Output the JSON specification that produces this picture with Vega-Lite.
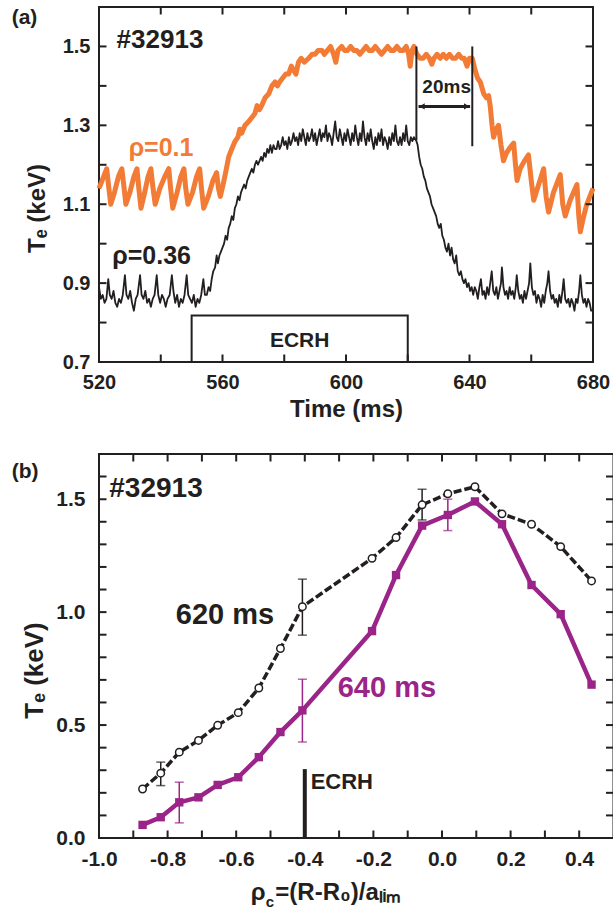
{
  "$schema": "https://vega.github.io/schema/vega-lite/v6.json",
  "background": "white",
  "padding": {"left": 10, "top": 6, "right": 0, "bottom": 0},
  "columns": 1,
  "align": "none",
  "spacing": 31,
  "config": {
    "font": "Liberation Sans",
    "view": {"stroke": "#231f20", "strokeWidth": 2},
    "axis": {
      "grid": false,
      "domain": false,
      "ticks": false,
      "offset": 0,
      "labelFont": "Liberation Sans",
      "labelFontWeight": "bold",
      "labelColor": "#231f20",
      "labelFlush": false,
      "labelOverlap": false,
      "titleFont": "Liberation Sans",
      "titleFontWeight": "bold",
      "titleColor": "#231f20"
    }
  },
  "datasets": {
    "orange": [
      {"t":520.0,"v":1.14},{"t":521.0,"v":1.16},{"t":522.0,"v":1.18},{"t":522.5,"v":1.19},{"t":523.2,"v":1.14},{"t":523.8,"v":1.10},
      {"t":525.0,"v":1.13},{"t":526.3,"v":1.17},{"t":527.4,"v":1.19},{"t":528.0,"v":1.15},{"t":528.7,"v":1.10},
      {"t":530.0,"v":1.13},{"t":531.3,"v":1.17},{"t":532.3,"v":1.19},{"t":532.9,"v":1.14},{"t":533.6,"v":1.09},
      {"t":534.8,"v":1.13},{"t":535.9,"v":1.17},{"t":536.8,"v":1.19},{"t":537.5,"v":1.14},{"t":538.2,"v":1.10},
      {"t":539.7,"v":1.14},{"t":541.3,"v":1.17},{"t":542.6,"v":1.19},{"t":543.2,"v":1.14},{"t":543.9,"v":1.09},
      {"t":545.3,"v":1.13},{"t":546.5,"v":1.17},{"t":547.5,"v":1.19},{"t":548.1,"v":1.14},{"t":548.8,"v":1.10},
      {"t":550.3,"v":1.13},{"t":551.6,"v":1.17},{"t":552.6,"v":1.19},{"t":553.2,"v":1.14},{"t":553.9,"v":1.09},
      {"t":555.4,"v":1.12},{"t":556.9,"v":1.16},{"t":558.1,"v":1.18},{"t":558.7,"v":1.14},{"t":559.3,"v":1.12},
      {"t":560.2,"v":1.15},{"t":561.0,"v":1.18},{"t":562.0,"v":1.22},{"t":563.0,"v":1.24},{"t":564.1,"v":1.26},
      {"t":565.0,"v":1.27},{"t":565.6,"v":1.29},{"t":566.2,"v":1.28},{"t":567.3,"v":1.30},{"t":568.5,"v":1.31},
      {"t":569.5,"v":1.32},{"t":570.5,"v":1.33},{"t":571.2,"v":1.35},{"t":572.0,"v":1.34},{"t":572.7,"v":1.35},
      {"t":573.8,"v":1.37},{"t":575.0,"v":1.38},{"t":576.0,"v":1.40},{"t":577.0,"v":1.41},{"t":577.8,"v":1.40},
      {"t":578.5,"v":1.41},{"t":579.5,"v":1.42},{"t":580.5,"v":1.43},{"t":581.4,"v":1.43},{"t":582.3,"v":1.45},
      {"t":583.0,"v":1.44},{"t":583.8,"v":1.43},{"t":584.6,"v":1.46},{"t":585.5,"v":1.47},{"t":586.5,"v":1.46},
      {"t":587.9,"v":1.47},{"t":589.0,"v":1.48},{"t":590.0,"v":1.48},{"t":591.0,"v":1.49},{"t":592.2,"v":1.49},
      {"t":593.0,"v":1.48},{"t":594.0,"v":1.49},{"t":595.0,"v":1.50},{"t":596.0,"v":1.48},{"t":596.7,"v":1.46},
      {"t":597.4,"v":1.49},{"t":598.6,"v":1.50},{"t":599.5,"v":1.49},{"t":600.5,"v":1.49},{"t":601.5,"v":1.50},
      {"t":602.5,"v":1.49},{"t":603.5,"v":1.49},{"t":604.5,"v":1.48},{"t":605.5,"v":1.49},{"t":606.5,"v":1.50},
      {"t":607.5,"v":1.49},{"t":608.5,"v":1.49},{"t":609.5,"v":1.50},{"t":610.5,"v":1.49},{"t":611.5,"v":1.48},
      {"t":612.5,"v":1.49},{"t":613.5,"v":1.50},{"t":614.5,"v":1.49},{"t":615.5,"v":1.49},{"t":616.5,"v":1.50},
      {"t":617.5,"v":1.49},{"t":618.5,"v":1.49},{"t":619.5,"v":1.50},{"t":620.3,"v":1.48},{"t":620.8,"v":1.45},
      {"t":621.4,"v":1.49},{"t":622.0,"v":1.50},{"t":623.0,"v":1.48},{"t":624.0,"v":1.47},{"t":625.0,"v":1.47},
      {"t":626.0,"v":1.48},{"t":627.0,"v":1.47},{"t":627.8,"v":1.455},{"t":628.5,"v":1.47},{"t":629.5,"v":1.48},
      {"t":630.5,"v":1.47},{"t":631.5,"v":1.48},{"t":632.5,"v":1.47},{"t":633.5,"v":1.48},{"t":634.5,"v":1.47},
      {"t":635.5,"v":1.47},{"t":636.5,"v":1.48},{"t":637.5,"v":1.47},{"t":638.3,"v":1.47},{"t":639.2,"v":1.45},
      {"t":640.0,"v":1.47},{"t":640.9,"v":1.47},{"t":641.8,"v":1.44},{"t":642.6,"v":1.42},{"t":643.5,"v":1.41},
      {"t":644.6,"v":1.38},{"t":645.5,"v":1.37},{"t":646.2,"v":1.375},{"t":646.7,"v":1.35},{"t":647.3,"v":1.30},
      {"t":647.8,"v":1.27},{"t":648.6,"v":1.29},{"t":649.4,"v":1.30},{"t":650.2,"v":1.25},{"t":651.0,"v":1.21},
      {"t":652.0,"v":1.23},{"t":653.2,"v":1.245},{"t":654.3,"v":1.255},{"t":654.9,"v":1.20},{"t":655.4,"v":1.16},
      {"t":656.4,"v":1.19},{"t":657.8,"v":1.21},{"t":659.1,"v":1.225},{"t":660.0,"v":1.16},{"t":660.8,"v":1.11},
      {"t":662.4,"v":1.15},{"t":664.0,"v":1.19},{"t":664.8,"v":1.12},{"t":665.6,"v":1.08},{"t":667.2,"v":1.13},
      {"t":669.4,"v":1.175},{"t":670.2,"v":1.10},{"t":671.0,"v":1.07},{"t":672.6,"v":1.11},{"t":674.8,"v":1.15},
      {"t":675.4,"v":1.07},{"t":675.9,"v":1.03},{"t":677.0,"v":1.07},{"t":678.0,"v":1.10},{"t":679.0,"v":1.12},
      {"t":680.0,"v":1.14}
    ],
    "black": [
      {"t":520.0,"v":0.89},{"t":520.6,"v":0.86},{"t":521.2,"v":0.87},{"t":521.8,"v":0.85},{"t":522.4,"v":0.86},
      {"t":523.0,"v":0.91},{"t":523.5,"v":0.87},{"t":524.1,"v":0.86},{"t":524.7,"v":0.88},{"t":525.3,"v":0.85},
      {"t":525.9,"v":0.84},{"t":526.5,"v":0.86},{"t":527.1,"v":0.85},{"t":527.7,"v":0.87},{"t":528.4,"v":0.92},
      {"t":528.9,"v":0.87},{"t":529.5,"v":0.86},{"t":530.1,"v":0.88},{"t":530.7,"v":0.85},{"t":531.3,"v":0.83},
      {"t":531.9,"v":0.86},{"t":532.5,"v":0.87},{"t":533.3,"v":0.92},{"t":533.8,"v":0.87},{"t":534.4,"v":0.86},
      {"t":535.0,"v":0.88},{"t":535.6,"v":0.85},{"t":536.2,"v":0.86},{"t":536.8,"v":0.84},{"t":537.4,"v":0.86},
      {"t":538.0,"v":0.87},{"t":538.7,"v":0.92},{"t":539.2,"v":0.87},{"t":539.8,"v":0.85},{"t":540.4,"v":0.87},
      {"t":541.0,"v":0.86},{"t":541.6,"v":0.84},{"t":542.2,"v":0.86},{"t":542.9,"v":0.87},{"t":543.6,"v":0.92},
      {"t":544.1,"v":0.88},{"t":544.7,"v":0.85},{"t":545.3,"v":0.87},{"t":545.9,"v":0.84},{"t":546.5,"v":0.86},
      {"t":547.1,"v":0.85},{"t":547.7,"v":0.87},{"t":548.4,"v":0.92},{"t":548.9,"v":0.87},{"t":549.5,"v":0.86},
      {"t":550.1,"v":0.85},{"t":550.7,"v":0.87},{"t":551.3,"v":0.84},{"t":551.9,"v":0.86},{"t":552.5,"v":0.85},
      {"t":553.1,"v":0.87},{"t":553.8,"v":0.91},{"t":554.3,"v":0.87},{"t":554.9,"v":0.87},{"t":555.5,"v":0.89},
      {"t":556.0,"v":0.88},{"t":556.5,"v":0.91},{"t":557.0,"v":0.93},{"t":557.6,"v":0.94},{"t":558.1,"v":0.97},
      {"t":558.5,"v":0.95},{"t":559.0,"v":0.97},{"t":559.5,"v":0.98},{"t":560.0,"v":0.99},{"t":560.5,"v":1.00},
      {"t":561.0,"v":1.02},{"t":561.5,"v":1.01},{"t":562.0,"v":1.04},{"t":562.5,"v":1.05},{"t":563.0,"v":1.07},
      {"t":563.5,"v":1.06},{"t":564.0,"v":1.09},{"t":564.5,"v":1.10},{"t":565.0,"v":1.12},{"t":565.5,"v":1.11},
      {"t":566.0,"v":1.13},{"t":566.5,"v":1.14},{"t":567.0,"v":1.15},{"t":567.5,"v":1.14},{"t":568.0,"v":1.16},
      {"t":568.5,"v":1.17},{"t":569.0,"v":1.18},{"t":569.5,"v":1.19},{"t":570.0,"v":1.18},{"t":570.5,"v":1.20},
      {"t":571.0,"v":1.21},{"t":571.5,"v":1.20},{"t":572.0,"v":1.21},{"t":572.5,"v":1.22},{"t":573.0,"v":1.21},
      {"t":573.5,"v":1.23},{"t":574.0,"v":1.22},{"t":574.5,"v":1.24},{"t":575.0,"v":1.23},{"t":575.5,"v":1.25},
      {"t":576.0,"v":1.23},{"t":576.5,"v":1.25},{"t":577.0,"v":1.24},{"t":577.5,"v":1.24},{"t":578.0,"v":1.26},
      {"t":578.5,"v":1.24},{"t":579.0,"v":1.25},{"t":579.5,"v":1.27},{"t":580.0,"v":1.25},{"t":580.5,"v":1.26},
      {"t":581.0,"v":1.24},{"t":581.5,"v":1.27},{"t":582.0,"v":1.25},{"t":582.5,"v":1.26},{"t":583.0,"v":1.28},
      {"t":583.5,"v":1.26},{"t":584.0,"v":1.27},{"t":584.5,"v":1.25},{"t":585.0,"v":1.28},{"t":585.5,"v":1.26},
      {"t":586.0,"v":1.29},{"t":586.5,"v":1.27},{"t":587.0,"v":1.25},{"t":587.5,"v":1.28},{"t":588.0,"v":1.26},
      {"t":588.5,"v":1.27},{"t":589.0,"v":1.29},{"t":589.5,"v":1.26},{"t":590.0,"v":1.28},{"t":590.5,"v":1.25},
      {"t":591.0,"v":1.27},{"t":591.5,"v":1.29},{"t":592.0,"v":1.26},{"t":592.5,"v":1.28},{"t":593.0,"v":1.27},
      {"t":593.5,"v":1.30},{"t":594.0,"v":1.26},{"t":594.5,"v":1.28},{"t":595.0,"v":1.27},{"t":595.5,"v":1.25},
      {"t":596.0,"v":1.28},{"t":596.5,"v":1.31},{"t":597.0,"v":1.27},{"t":597.5,"v":1.26},{"t":598.0,"v":1.29},
      {"t":598.5,"v":1.27},{"t":599.0,"v":1.25},{"t":599.5,"v":1.28},{"t":600.0,"v":1.26},{"t":600.5,"v":1.29},
      {"t":601.0,"v":1.27},{"t":601.5,"v":1.25},{"t":602.0,"v":1.28},{"t":602.5,"v":1.26},{"t":603.0,"v":1.30},
      {"t":603.5,"v":1.27},{"t":604.0,"v":1.25},{"t":604.5,"v":1.28},{"t":605.0,"v":1.26},{"t":605.5,"v":1.31},
      {"t":606.0,"v":1.27},{"t":606.5,"v":1.25},{"t":607.0,"v":1.28},{"t":607.5,"v":1.26},{"t":608.0,"v":1.29},
      {"t":608.5,"v":1.26},{"t":609.0,"v":1.24},{"t":609.5,"v":1.27},{"t":610.0,"v":1.25},{"t":610.5,"v":1.28},
      {"t":611.0,"v":1.26},{"t":611.5,"v":1.29},{"t":612.0,"v":1.25},{"t":612.5,"v":1.27},{"t":613.0,"v":1.26},
      {"t":613.5,"v":1.24},{"t":614.0,"v":1.27},{"t":614.5,"v":1.25},{"t":615.0,"v":1.28},{"t":615.5,"v":1.26},
      {"t":616.0,"v":1.30},{"t":616.5,"v":1.26},{"t":617.0,"v":1.25},{"t":617.5,"v":1.27},{"t":618.0,"v":1.25},
      {"t":618.5,"v":1.28},{"t":619.0,"v":1.26},{"t":619.5,"v":1.30},{"t":620.0,"v":1.26},{"t":620.5,"v":1.25},
      {"t":621.0,"v":1.27},{"t":621.5,"v":1.26},{"t":622.0,"v":1.27},{"t":622.8,"v":1.26},{"t":623.2,"v":1.25},
      {"t":623.7,"v":1.22},{"t":624.2,"v":1.20},{"t":624.7,"v":1.19},{"t":625.2,"v":1.17},{"t":625.7,"v":1.16},
      {"t":626.2,"v":1.14},{"t":626.7,"v":1.13},{"t":627.2,"v":1.12},{"t":627.7,"v":1.10},{"t":628.2,"v":1.09},
      {"t":628.7,"v":1.08},{"t":629.2,"v":1.07},{"t":629.7,"v":1.05},{"t":630.2,"v":1.04},{"t":630.7,"v":1.05},
      {"t":631.2,"v":1.02},{"t":631.7,"v":1.01},{"t":632.2,"v":0.99},{"t":632.7,"v":0.98},{"t":633.2,"v":1.00},
      {"t":633.7,"v":0.97},{"t":634.2,"v":0.99},{"t":634.7,"v":0.96},{"t":635.2,"v":0.95},{"t":635.7,"v":0.97},
      {"t":636.2,"v":0.93},{"t":636.7,"v":0.92},{"t":637.2,"v":0.93},{"t":637.7,"v":0.91},{"t":638.2,"v":0.90},
      {"t":638.7,"v":0.91},{"t":639.2,"v":0.89},{"t":639.7,"v":0.90},{"t":640.2,"v":0.88},{"t":640.7,"v":0.89},
      {"t":641.2,"v":0.87},{"t":641.7,"v":0.89},{"t":642.2,"v":0.88},{"t":642.7,"v":0.86},{"t":643.2,"v":0.89},
      {"t":643.7,"v":0.91},{"t":644.2,"v":0.87},{"t":644.7,"v":0.88},{"t":645.2,"v":0.86},{"t":645.7,"v":0.89},
      {"t":646.2,"v":0.87},{"t":646.7,"v":0.90},{"t":647.2,"v":0.93},{"t":647.7,"v":0.88},{"t":648.2,"v":0.87},
      {"t":648.7,"v":0.89},{"t":649.2,"v":0.86},{"t":649.7,"v":0.88},{"t":650.2,"v":0.90},{"t":650.5,"v":0.94},
      {"t":651.0,"v":0.89},{"t":651.5,"v":0.87},{"t":652.0,"v":0.88},{"t":652.5,"v":0.86},{"t":653.0,"v":0.89},
      {"t":653.5,"v":0.87},{"t":654.0,"v":0.88},{"t":654.5,"v":0.86},{"t":655.0,"v":0.89},{"t":655.3,"v":0.92},
      {"t":655.8,"v":0.88},{"t":656.3,"v":0.86},{"t":656.8,"v":0.87},{"t":657.3,"v":0.85},{"t":657.8,"v":0.88},
      {"t":658.3,"v":0.86},{"t":658.8,"v":0.88},{"t":659.3,"v":0.90},{"t":659.7,"v":0.95},{"t":660.2,"v":0.89},
      {"t":660.7,"v":0.87},{"t":661.2,"v":0.88},{"t":661.7,"v":0.85},{"t":662.2,"v":0.87},{"t":662.7,"v":0.86},
      {"t":663.2,"v":0.84},{"t":663.7,"v":0.87},{"t":664.2,"v":0.85},{"t":664.7,"v":0.88},{"t":665.2,"v":0.90},
      {"t":665.6,"v":0.93},{"t":666.1,"v":0.88},{"t":666.6,"v":0.86},{"t":667.1,"v":0.87},{"t":667.6,"v":0.85},
      {"t":668.1,"v":0.86},{"t":668.6,"v":0.84},{"t":669.1,"v":0.87},{"t":669.6,"v":0.85},{"t":670.1,"v":0.88},
      {"t":670.5,"v":0.91},{"t":671.0,"v":0.86},{"t":671.5,"v":0.85},{"t":672.0,"v":0.86},{"t":672.5,"v":0.84},
      {"t":673.0,"v":0.86},{"t":673.5,"v":0.85},{"t":674.0,"v":0.83},{"t":674.5,"v":0.86},{"t":675.0,"v":0.85},
      {"t":675.5,"v":0.88},{"t":675.9,"v":0.92},{"t":676.4,"v":0.87},{"t":676.9,"v":0.85},{"t":677.4,"v":0.86},
      {"t":677.9,"v":0.84},{"t":678.4,"v":0.86},{"t":678.9,"v":0.85},{"t":679.4,"v":0.83},{"t":680.0,"v":0.83}
    ],
    "p620": [
      {"rho":-0.873,"te":0.217},{"rho":-0.820,"te":0.287},{"rho":-0.766,"te":0.380},{"rho":-0.710,"te":0.432},
      {"rho":-0.654,"te":0.499},{"rho":-0.594,"te":0.555},{"rho":-0.534,"te":0.664},{"rho":-0.471,"te":0.839},
      {"rho":-0.407,"te":1.024},{"rho":-0.204,"te":1.238},{"rho":-0.134,"te":1.330},{"rho":-0.058,"te":1.475},
      {"rho":0.017,"te":1.524},{"rho":0.096,"te":1.555},{"rho":0.175,"te":1.435},{"rho":0.261,"te":1.389},
      {"rho":0.346,"te":1.290},{"rho":0.436,"te":1.138}
    ],
    "p640": [
      {"rho":-0.873,"te":0.058},{"rho":-0.820,"te":0.092},{"rho":-0.766,"te":0.158},{"rho":-0.710,"te":0.180},
      {"rho":-0.654,"te":0.235},{"rho":-0.594,"te":0.269},{"rho":-0.534,"te":0.358},{"rho":-0.471,"te":0.469},
      {"rho":-0.407,"te":0.565},{"rho":-0.204,"te":0.916},{"rho":-0.134,"te":1.164},{"rho":-0.058,"te":1.383},
      {"rho":0.017,"te":1.430},{"rho":0.096,"te":1.490},{"rho":0.175,"te":1.389},{"rho":0.261,"te":1.120},
      {"rho":0.346,"te":0.991},{"rho":0.436,"te":0.679}
    ],
    "e620": [
      {"rho":-0.820,"lo":0.232,"hi":0.336},{"rho":-0.407,"lo":0.898,"hi":1.146},{"rho":-0.058,"lo":1.408,"hi":1.544}
    ],
    "e640": [
      {"rho":-0.766,"lo":0.067,"hi":0.247},{"rho":-0.407,"lo":0.425,"hi":0.703},{"rho":0.017,"lo":1.361,"hi":1.500}
    ],
    "marks20": [
      {"t":622.8,"top":1.5,"bot":1.262},{"t":640.9,"top":1.5,"bot":1.247}
    ],
    "tickT": [{"t":540},{"t":560},{"t":580},{"t":600},{"t":620},{"t":640},{"t":660}],
    "tickV": [{"v":0.8},{"v":0.9},{"v":1.0},{"v":1.1},{"v":1.2},{"v":1.3},{"v":1.4},{"v":1.5}],
    "tickR": [{"rho":-0.9},{"rho":-0.8},{"rho":-0.7},{"rho":-0.6},{"rho":-0.5},{"rho":-0.4},{"rho":-0.3},{"rho":-0.2},{"rho":-0.1},{"rho":0.0},{"rho":0.1},{"rho":0.2},{"rho":0.3},{"rho":0.4}],
    "tickE": [{"te":0.1},{"te":0.2},{"te":0.3},{"te":0.4},{"te":0.5},{"te":0.6},{"te":0.7},{"te":0.8},{"te":0.9},{"te":1.0},{"te":1.1},{"te":1.2},{"te":1.3},{"te":1.4},{"te":1.5},{"te":1.6}]
  },
  "concat": [
    {
      "width": 494,
      "height": 355,
      "layer": [
        {
          "data": {"name": "orange"},
          "mark": {"type": "line", "color": "#F27B35", "strokeWidth": 5, "strokeJoin": "round"},
          "encoding": {
            "x": {"field": "t", "type": "quantitative", "scale": {"domain": [520, 680], "nice": false, "zero": false},
                  "axis": {"orient": "bottom", "values": [520,560,600,640,680],
                           "labelFontSize": 20, "labelPadding": 10, "ticks": false, "domain": false, "offset": 0,
                           "title": "Time (ms)", "titleFontSize": 24, "titleY": 54, "titleBaseline": "alphabetic"}},
            "y": {"field": "v", "type": "quantitative", "scale": {"domain": [0.7, 1.6], "nice": false, "zero": false},
                  "axis": {"orient": "left", "values": [0.7,0.9,1.1,1.3,1.5], "format": ".1f",
                           "labelFontSize": 20, "labelPadding": 9, "ticks": false, "domain": false, "offset": 0,
                           "title": "T\u2091 (keV)", "titleFontSize": 24, "titleX": -50, "titleY": 201,
                           "titleAngle": 270, "titleBaseline": "bottom", "titleAlign": "center"}}
          }
        },
        {
          "data": {"name": "black"},
          "mark": {"type": "line", "color": "#231f20", "strokeWidth": 1.8, "strokeJoin": "round"},
          "encoding": {
            "x": {"field": "t", "type": "quantitative"},
            "y": {"field": "v", "type": "quantitative"}
          }
        },
        {
          "data": {"name": "tickT"},
          "mark": {"type": "tick", "orient": "vertical", "size": 15, "thickness": 2, "color": "#231f20", "opacity": 1, "clip": true},
          "encoding": {"x": {"field": "t", "type": "quantitative"}, "y": {"datum": 1.6}}
        },
        {
          "data": {"name": "tickT"},
          "mark": {"type": "tick", "orient": "vertical", "size": 15, "thickness": 2, "color": "#231f20", "opacity": 1, "clip": true},
          "encoding": {"x": {"field": "t", "type": "quantitative"}, "y": {"datum": 0.7}}
        },
        {
          "data": {"name": "tickV"},
          "mark": {"type": "tick", "orient": "horizontal", "size": 15, "thickness": 2, "color": "#231f20", "opacity": 1, "clip": true},
          "encoding": {"y": {"field": "v", "type": "quantitative"}, "x": {"datum": 520}}
        },
        {
          "data": {"name": "tickV"},
          "mark": {"type": "tick", "orient": "horizontal", "size": 15, "thickness": 2, "color": "#231f20", "opacity": 1, "clip": true},
          "encoding": {"y": {"field": "v", "type": "quantitative"}, "x": {"datum": 680}}
        },
        {
          "data": {"values": [{}]},
          "mark": {"type": "rect", "fillOpacity": 0, "stroke": "#231f20", "strokeWidth": 2},
          "encoding": {
            "x": {"datum": 550}, "x2": {"datum": 620},
            "y": {"datum": 0.7}, "y2": {"datum": 0.818}
          }
        },
        {
          "data": {"values": [{}]},
          "mark": {"type": "text", "text": "ECRH", "align": "center", "baseline": "alphabetic", "fontSize": 21, "fontWeight": "bold", "color": "#231f20"},
          "encoding": {"x": {"datum": 585}, "y": {"datum": 0.738}}
        },
        {
          "data": {"name": "marks20"},
          "mark": {"type": "rule", "strokeWidth": 2, "color": "#231f20"},
          "encoding": {
            "x": {"field": "t", "type": "quantitative"},
            "y": {"field": "top", "type": "quantitative"},
            "y2": {"field": "bot"}
          }
        },
        {
          "data": {"values": [{}]},
          "mark": {"type": "rule", "strokeWidth": 3, "color": "#231f20"},
          "encoding": {
            "x": {"datum": 623.5}, "x2": {"datum": 640.2},
            "y": {"datum": 1.348}
          }
        },
        {
          "data": {"values": [{}]},
          "mark": {"type": "point", "shape": "triangle-left", "filled": true, "size": 40, "color": "#231f20", "opacity": 1},
          "encoding": {"x": {"datum": 624.6}, "y": {"datum": 1.348}}
        },
        {
          "data": {"values": [{}]},
          "mark": {"type": "point", "shape": "triangle-right", "filled": true, "size": 40, "color": "#231f20", "opacity": 1},
          "encoding": {"x": {"datum": 639.1}, "y": {"datum": 1.348}}
        },
        {
          "data": {"values": [{}]},
          "mark": {"type": "text", "text": "20ms", "align": "center", "baseline": "alphabetic", "fontSize": 19, "fontWeight": "bold", "color": "#231f20"},
          "encoding": {"x": {"datum": 632.6}, "y": {"datum": 1.382}}
        },
        {
          "data": {"values": [{}]},
          "mark": {"type": "text", "text": "#32913", "align": "left", "baseline": "alphabetic", "fontSize": 26, "fontWeight": "bold", "color": "#231f20"},
          "encoding": {"x": {"datum": 525.7}, "y": {"datum": 1.497}}
        },
        {
          "data": {"values": [{}]},
          "mark": {"type": "text", "text": "ρ=0.1", "align": "left", "baseline": "alphabetic", "fontSize": 25, "fontWeight": "bold", "color": "#F27B35"},
          "encoding": {"x": {"datum": 529.6}, "y": {"datum": 1.222}}
        },
        {
          "data": {"values": [{}]},
          "mark": {"type": "text", "text": "ρ=0.36", "align": "left", "baseline": "alphabetic", "fontSize": 25, "fontWeight": "bold", "color": "#231f20"},
          "encoding": {"x": {"datum": 524.3}, "y": {"datum": 0.949}}
        },
        {
          "data": {"values": [{}]},
          "mark": {"type": "text", "text": "(a)", "align": "left", "baseline": "top", "fontSize": 21, "fontWeight": "bold", "color": "#231f20", "dx": -87.3, "dy": 0},
          "encoding": {"x": {"datum": 520}, "y": {"datum": 1.6}}
        }
      ]
    },
    {
      "width": 514.5,
      "height": 384,
      "layer": [
        {
          "data": {"name": "p640"},
          "mark": {"type": "line", "color": "#9A2488", "strokeWidth": 4.5, "strokeJoin": "round"},
          "encoding": {
            "x": {"field": "rho", "type": "quantitative", "scale": {"domain": [-1.0, 0.5], "nice": false, "zero": false},
                  "axis": {"orient": "bottom", "values": [-1,-0.8,-0.6,-0.4,-0.2,0,0.2,0.4],
                           "labelExpr": "replace(format(datum.value, '.1f'), '−', '-')",
                           "labelFontSize": 21, "labelPadding": 10, "ticks": false, "domain": false, "offset": 0,
                           "title": null}},
            "y": {"field": "te", "type": "quantitative", "title": "T\u2091 (keV)", "scale": {"domain": [0, 1.7], "nice": false, "zero": false},
                  "axis": {"orient": "left", "values": [0,0.5,1.0,1.5], "format": ".1f",
                           "labelFontSize": 21, "labelPadding": 14, "ticks": false, "domain": false, "offset": 0,
                           "title": "T\u2091 (keV)", "titleFontSize": 26, "titleX": -52, "titleY": 216,
                           "titleAngle": 270, "titleBaseline": "bottom", "titleAlign": "center"}}
          }
        },
        {
          "data": {"name": "p620"},
          "mark": {"type": "line", "color": "#231f20", "strokeWidth": 3.5, "strokeDash": [8, 3]},
          "encoding": {
            "x": {"field": "rho", "type": "quantitative"},
            "y": {"field": "te", "type": "quantitative", "title": "T\u2091 (keV)"}
          }
        },
        {
          "data": {"name": "tickR"},
          "mark": {"type": "tick", "orient": "vertical", "size": 15, "thickness": 2, "color": "#231f20", "opacity": 1, "clip": true},
          "encoding": {"x": {"field": "rho", "type": "quantitative"}, "y": {"datum": 1.7}}
        },
        {
          "data": {"name": "tickR"},
          "mark": {"type": "tick", "orient": "vertical", "size": 15, "thickness": 2, "color": "#231f20", "opacity": 1, "clip": true},
          "encoding": {"x": {"field": "rho", "type": "quantitative"}, "y": {"datum": 0}}
        },
        {
          "data": {"name": "tickE"},
          "mark": {"type": "tick", "orient": "horizontal", "size": 15, "thickness": 2, "color": "#231f20", "opacity": 1, "clip": true},
          "encoding": {"y": {"field": "te", "type": "quantitative", "title": "T\u2091 (keV)"}, "x": {"datum": -1.0}}
        },
        {
          "data": {"name": "tickE"},
          "mark": {"type": "tick", "orient": "horizontal", "size": 15, "thickness": 2, "color": "#231f20", "opacity": 1, "clip": true},
          "encoding": {"y": {"field": "te", "type": "quantitative", "title": "T\u2091 (keV)"}, "x": {"datum": 0.5}}
        },
        {
          "data": {"name": "e620"},
          "mark": {"type": "errorbar", "color": "#231f20", "thickness": 1.5, "ticks": {"size": 9, "thickness": 1.5}},
          "encoding": {
            "x": {"field": "rho", "type": "quantitative"},
            "y": {"field": "lo", "type": "quantitative", "title": "T\u2091 (keV)"},
            "y2": {"field": "hi"}
          }
        },
        {
          "data": {"name": "e640"},
          "mark": {"type": "errorbar", "color": "#9A2488", "thickness": 1.5, "ticks": {"size": 9, "thickness": 1.5}},
          "encoding": {
            "x": {"field": "rho", "type": "quantitative"},
            "y": {"field": "lo", "type": "quantitative", "title": "T\u2091 (keV)"},
            "y2": {"field": "hi"}
          }
        },
        {
          "data": {"name": "p620"},
          "mark": {"type": "point", "shape": "circle", "filled": true, "fill": "white", "stroke": "#231f20", "strokeWidth": 1.5, "size": 55, "opacity": 1},
          "encoding": {
            "x": {"field": "rho", "type": "quantitative"},
            "y": {"field": "te", "type": "quantitative", "title": "T\u2091 (keV)"}
          }
        },
        {
          "data": {"name": "p640"},
          "mark": {"type": "point", "shape": "square", "filled": true, "color": "#9A2488", "size": 70, "opacity": 1},
          "encoding": {
            "x": {"field": "rho", "type": "quantitative"},
            "y": {"field": "te", "type": "quantitative", "title": "T\u2091 (keV)"}
          }
        },
        {
          "data": {"values": [{}]},
          "mark": {"type": "rule", "strokeWidth": 4, "color": "#231f20"},
          "encoding": {
            "x": {"datum": -0.4},
            "y": {"datum": 0}, "y2": {"datum": 0.305}
          }
        },
        {
          "data": {"values": [{}]},
          "mark": {"type": "text", "text": "ECRH", "align": "left", "baseline": "alphabetic", "fontSize": 22, "fontWeight": "bold", "color": "#231f20"},
          "encoding": {"x": {"datum": -0.383}, "y": {"datum": 0.217}}
        },
        {
          "data": {"values": [{}]},
          "mark": {"type": "text", "text": "#32913", "align": "left", "baseline": "alphabetic", "fontSize": 28, "fontWeight": "bold", "color": "#231f20"},
          "encoding": {"x": {"datum": -0.970}, "y": {"datum": 1.508}}
        },
        {
          "data": {"values": [{}]},
          "mark": {"type": "text", "text": "620 ms", "align": "left", "baseline": "alphabetic", "fontSize": 29, "fontWeight": "bold", "color": "#231f20"},
          "encoding": {"x": {"datum": -0.776}, "y": {"datum": 0.947}}
        },
        {
          "data": {"values": [{}]},
          "mark": {"type": "text", "text": "640 ms", "align": "left", "baseline": "alphabetic", "fontSize": 29, "fontWeight": "bold", "color": "#9A2488"},
          "encoding": {"x": {"datum": -0.304}, "y": {"datum": 0.624}}
        },
        {
          "data": {"values": [{}]},
          "mark": {"type": "text", "text": "ρ", "align": "left", "baseline": "alphabetic", "fontSize": 24, "fontWeight": "bold", "color": "#231f20", "dy": 62},
          "encoding": {"x": {"datum": -0.5577}, "y": {"datum": 0}}
        },
        {
          "data": {"values": [{}]},
          "mark": {"type": "text", "text": "c", "align": "left", "baseline": "alphabetic", "fontSize": 15, "fontWeight": "bold", "color": "#231f20", "dy": 69},
          "encoding": {"x": {"datum": -0.514}, "y": {"datum": 0}}
        },
        {
          "data": {"values": [{}]},
          "mark": {"type": "text", "text": "=(R-R₀)/aₗᵢₘ", "align": "left", "baseline": "alphabetic", "fontSize": 24, "fontWeight": "bold", "color": "#231f20", "dy": 62},
          "encoding": {"x": {"datum": -0.486}, "y": {"datum": 0}}
        },
        {
          "data": {"values": [{}]},
          "mark": {"type": "text", "text": "(b)", "align": "left", "baseline": "top", "fontSize": 21, "fontWeight": "bold", "color": "#231f20", "dx": -87.3, "dy": 7},
          "encoding": {"x": {"datum": -1.0}, "y": {"datum": 1.7}}
        }
      ]
    }
  ]
}
